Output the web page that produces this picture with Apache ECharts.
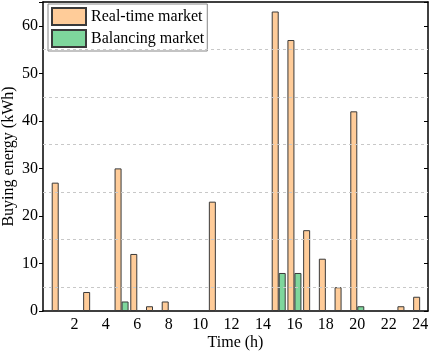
<!DOCTYPE html>
<html>
<head>
<meta charset="utf-8">
<script src="https://cdn.jsdelivr.net/npm/echarts@6/dist/echarts.min.js"></script>
<style>html,body{margin:0;padding:0;background:#fff;}#c{width:429px;height:354px;}</style>
</head>
<body>
<div id="c"></div>
<script>
// Hours (x positions) and values
const hours = [1,2,3,4,5,6,7,8,9,10,11,12,13,14,15,16,17,18,19,20,21,22,23,24];
const realTime = [27,0,4,0,30,12,1,2,0,0,23,0,0,0,63,57,17,11,5,42,0,0,1,3];
const balancing = [0,0,0,0,2,0,0,0,0,0,0,0,0,0,8,8,0,0,0,1,0,0,0,0];
const xTicks = [2,4,6,8,10,12,14,16,18,20,22,24];
const yTicks = [0,10,20,30,40,50,60];
const gridVals = [5,15,25,35,45,55];
const seriesNames = ['Real-time market','Balancing market'];

const font = "'Liberation Serif', 'Times New Roman', serif";
function pairs(vals){ return hours.map((h,i)=>[h, vals[i]]).filter(p=>p[1]>0); }

const chart = echarts.init(document.getElementById('c'), null, {renderer:'canvas'});
chart.setOption({
  animation:false,
  textStyle:{fontFamily:font},
  grid:{left:43, right:1, top:2, bottom:43, containLabel:false, outerBoundsMode:'none'},
  legend:{
    orient:'vertical', left:48, top:4,
    icon:'rect',
    itemWidth:34, itemHeight:17, itemGap:3,
    padding:[3,3,3,3],
    borderColor:'#888', borderWidth:1, backgroundColor:'#fff',
    textStyle:{fontFamily:font, fontSize:16, color:'#000'},
    data:seriesNames
  },
  xAxis:[{
    type:'value', min:0, max:24.5, interval:2,
    name:'Time (h)', nameLocation:'middle', nameGap:24, nameMoveOverlap:false,
    nameTextStyle:{fontFamily:font, fontSize:16, color:'#000'},
    axisLine:{show:true, lineStyle:{color:'#000', width:1.5}},
    axisTick:{show:false},
    splitLine:{show:false},
    axisLabel:{fontFamily:font, fontSize:16, color:'#000', margin:6,
      formatter:v=> xTicks.indexOf(v)>=0 ? String(v) : ''}
  },{
    type:'value', position:'top', min:0, max:24.5,
    axisLine:{show:true, onZero:false, lineStyle:{color:'#000', width:1.5}},
    axisTick:{show:false}, axisLabel:{show:false}, splitLine:{show:false}
  }],
  yAxis:[{
    type:'value', min:0, max:65, interval:10,
    name:'Buying energy (kWh)', nameLocation:'middle', nameGap:26, nameMoveOverlap:false,
    nameTextStyle:{fontFamily:font, fontSize:16, color:'#000'},
    axisLine:{show:true, lineStyle:{color:'#000', width:1.5}},
    axisTick:{show:true, inside:false, length:4, lineStyle:{color:'#000'}},
    splitLine:{show:false},
    axisLabel:{fontFamily:font, fontSize:16, color:'#000', margin:5,
      formatter:v=> yTicks.indexOf(v)>=0 ? String(v) : ''}
  },{
    type:'value', position:'right', min:0, max:65, interval:10,
    axisLine:{show:true, onZero:false, lineStyle:{color:'#000', width:1.5}},
    axisTick:{show:true, inside:true, length:4, lineStyle:{color:'#000'}},
    axisLabel:{show:false}, splitLine:{show:false}
  }],
  series:[{
    name:seriesNames[0], type:'bar', barWidth:7, barGap:'0%',
    itemStyle:{color:'#FFCC99', borderColor:'#3a3a3a', borderWidth:1},
    data:pairs(realTime),
    markLine:{
      silent:true, symbol:'none', label:{show:false},
      lineStyle:{color:'#c8c8c8', type:[3,3], width:1},
      data:gridVals.map(v=>({yAxis:v}))
    },
    z:2
  },{
    name:seriesNames[1], type:'bar', barWidth:7, barGap:'0%',
    itemStyle:{color:'#7ED69C', borderColor:'#3a3a3a', borderWidth:1},
    data:pairs(balancing),
    z:2
  }]
});
</script>
</body>
</html>
